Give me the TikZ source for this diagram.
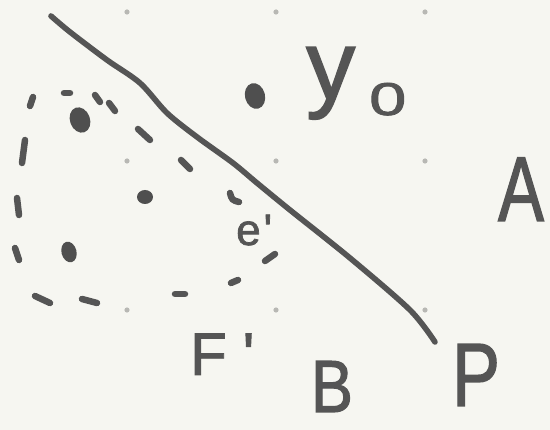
\documentclass[tikz,border=0pt]{standalone}
\usepackage{fontspec}
\setmainfont{Liberation Sans}
\newfontfamily\skhand{Liberation Sans}[FakeBold=1.6]
\definecolor{skPaper}{HTML}{F6F6F1}
\definecolor{skInk}{HTML}{555555}
\definecolor{skDot}{HTML}{4F4F4F}
\definecolor{skGrid}{HTML}{B8B8B4}
\begin{document}
\begin{tikzpicture}[
  x=1pt, y=-1pt, text=skInk,
  sk line/.style={draw=skInk,line width=5.6pt,line cap=round,line join=round},
  sk dash/.style={draw=skInk,line width=6.5pt,line cap=round},
  sk point/.style={fill=skDot},
  sk label/.style={inner sep=0pt,text=skInk}
]
% Paper and its grid of faint dots.
\fill[skPaper] (0,0) rectangle (550,430);
\useasboundingbox (0,0) rectangle (550,430);
\foreach \xx in {127,276,425}
  \foreach \yy in {12,161,310}
    \fill[skGrid] (\xx,\yy) circle[radius=2.6];

% The long stroke from top left to P.
\draw[sk line] plot[smooth,tension=.5] coordinates {
  (51,16) (70,32) (107,60) (140,83) (167,113) (197,137) (233,163)
  (257,183) (290,210) (350,258) (410,310) (435,342)};

% Dashed loop, one dash at a time as it was sketched.
\foreach \ax/\ay/\bx/\by in {
  33/97/30/106, 64/93/70/93, 95/95/100/102, 109/103/115/111,
  138/129/150/140, 181/160/190/169, 275/254/265/261,
  238/280/231/283, 175/294/185/294, 82/299/97/303,
  35/296/50/303, 15/248/19/260, 17/198/19/215, 25/140/22/163}
  \draw[sk dash] (\ax,\ay) -- (\bx,\by);
\draw[sk dash] (230,193) .. controls (232,200) .. (239,202);

% Points.
\fill[sk point] (255,96) ellipse[x radius=10,y radius=13,rotate=15];
\fill[sk point] (80,120) ellipse[x radius=10,y radius=13,rotate=20];
\fill[sk point] (145,197) ellipse[x radius=8,y radius=7];
\fill[sk point] (69,252) ellipse[x radius=7.5,y radius=10.5,rotate=15];

% Labels.
\node[sk label,anchor=base west] (yzero) at (306,99)
  {\skhand\fontsize{98}{98}\selectfont y\kern14pt\raisebox{-16pt}{\fontsize{46}{46}\selectfont\scalebox{1.45}[1]{0}}};
\node[sk label,anchor=base,font=\skhand\fontsize{92}{92}\selectfont] (ptA) at (521,221) {\scalebox{.75}[1]{A}};
\node[sk label,anchor=base,font=\skhand\fontsize{74}{74}\selectfont] (ptB) at (332,412) {\scalebox{.85}[1]{B}};
\node[sk label,anchor=base,font=\skhand\fontsize{90}{90}\selectfont] (ptP) at (476,406) {\scalebox{.8}[1]{P}};
\node[sk label,anchor=base west,font=\skhand\fontsize{60}{60}\selectfont] (setF) at (190,375) {F\kern16pt'};
\node[sk label,anchor=base west,font=\skhand\fontsize{44}{44}\selectfont] (ptE) at (236,245) {e\kern3pt'};
\end{tikzpicture}
\end{document}
